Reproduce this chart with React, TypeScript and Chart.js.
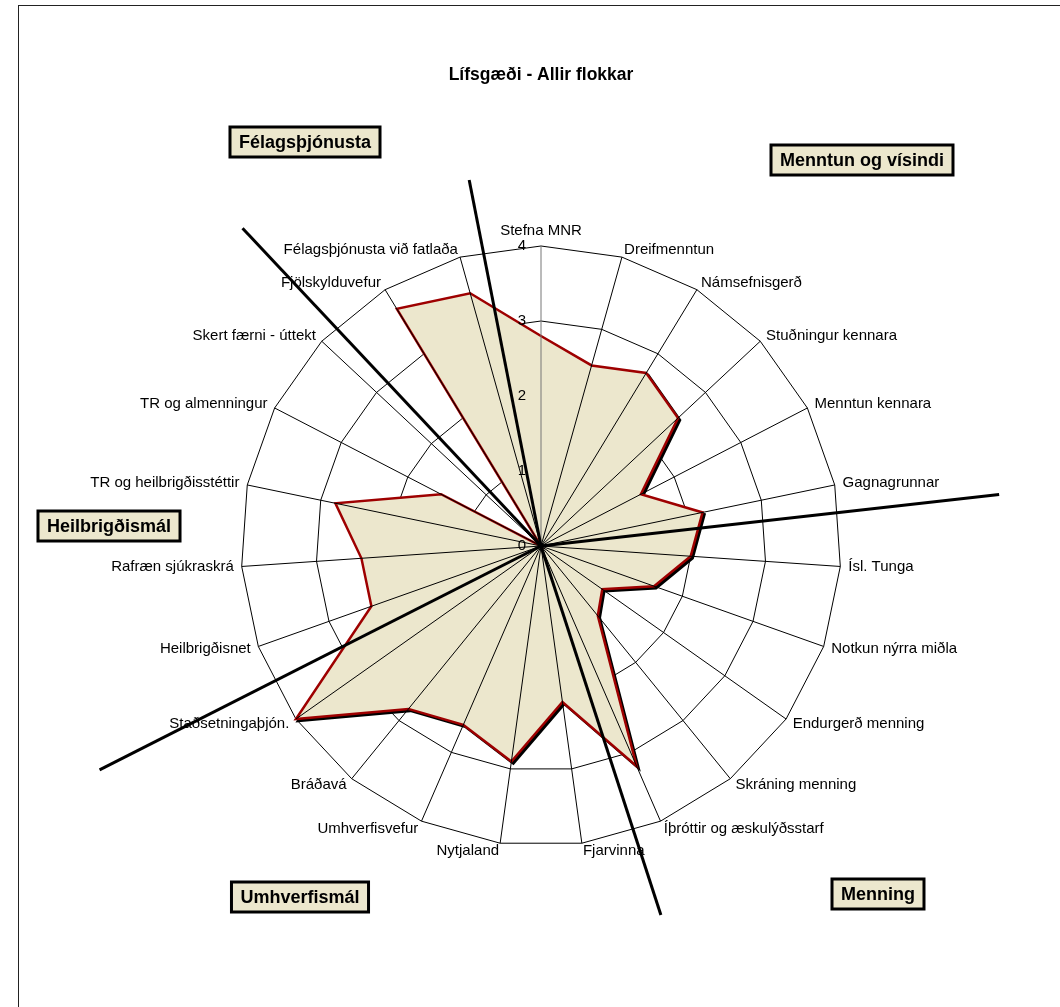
import React, { useEffect, useRef } from "react";
import { Chart, registerables } from "chart.js";

Chart.register(...registerables);

// ---------- data ----------
const categories = [
  "Stefna MNR",
  "Dreifmenntun",
  "Námsefnisgerð",
  "Stuðningur kennara",
  "Menntun kennara",
  "Gagnagrunnar",
  "Ísl. Tunga",
  "Notkun nýrra miðla",
  "Endurgerð menning",
  "Skráning menning",
  "Íþróttir og æskulýðsstarf",
  "Fjarvinna",
  "Nytjaland",
  "Umhverfisvefur",
  "Bráðavá",
  "Staðsetningaþjón.",
  "Heilbrigðisnet",
  "Rafræn sjúkraskrá",
  "TR og heilbrigðisstéttir",
  "TR og almenningur",
  "Skert færni - úttekt",
  "Fjölskylduvefur",
  "Félagsþjónusta við fatlaða",
];

const values = [
  2.8, 2.5, 2.7, 2.5, 1.5, 2.2, 2.0, 1.6, 1.0, 1.2, 3.2, 2.1,
  2.9, 2.6, 2.8, 4.0, 2.4, 2.4, 2.8, 1.5, 0.0, 3.7, 3.5,
];

const tickValues = [0, 1, 2, 3, 4];

const titleText = "Lífsgæði - Allir flokkar";

const groupNames = [
  "Félagsþjónusta",
  "Menntun og vísindi",
  "Heilbrigðismál",
  "Umhverfismál",
  "Menning",
];

// separator rays between the groups (degrees clockwise from top)
const separatorAngles = [348.9, 83.6, 162.0, 243.1, 316.8];

// ---------- layout / style ----------
const W = 1060;
const H = 1007;
const separatorLengths = [373, 461, 388, 495, 436];
const groupBoxCenters = [
  [305, 142],
  [862, 160],
  [109, 526],
  [300, 897],
  [878, 894],
];
const FILL = "#ECE7CD";
const LINE = "#9E0000";
const FONT = '"Liberation Sans", Arial, sans-serif';

const overlayPlugin = {
  id: "overlay",
  beforeDatasetsDraw(chart: any) {
    const ctx = chart.ctx;
    const meta = chart.getDatasetMeta(0);
    ctx.save();
    ctx.beginPath();
    meta.data.forEach((p: any, i: number) => {
      const x = p.x + 2;
      const y = p.y + 2;
      if (i === 0) ctx.moveTo(x, y);
      else ctx.lineTo(x, y);
    });
    ctx.closePath();
    ctx.fillStyle = "#000";
    ctx.fill();
    ctx.lineWidth = 2.5;
    ctx.strokeStyle = "#000";
    ctx.stroke();
    ctx.restore();
  },
  afterDatasetsDraw(chart: any) {
    const ctx = chart.ctx;
    const scale = chart.scales.r;
    const cx = scale.xCenter;
    const cy = scale.yCenter;
    const R = scale.drawingArea;
    ctx.save();

    // spokes (category axis lines) on top of the fill
    ctx.lineWidth = 1;
    categories.forEach((_, i) => {
      const p = scale.getPointPosition(i, R);
      ctx.strokeStyle = i === 0 ? "#777" : "#000";
      ctx.beginPath();
      ctx.moveTo(cx, cy);
      ctx.lineTo(p.x, p.y);
      ctx.stroke();
    });

    // thick group separators
    ctx.strokeStyle = "#000";
    ctx.lineWidth = 3;
    separatorAngles.forEach((deg, i) => {
      const a = (deg * Math.PI) / 180;
      const L = separatorLengths[i];
      ctx.beginPath();
      ctx.moveTo(cx, cy);
      ctx.lineTo(cx + L * Math.sin(a), cy - L * Math.cos(a));
      ctx.stroke();
    });

    // value tick labels
    ctx.fillStyle = "#000";
    ctx.font = `15px ${FONT}`;
    ctx.textAlign = "right";
    ctx.textBaseline = "middle";
    tickValues.forEach((v) => {
      const d = scale.getDistanceFromCenterForValue(v);
      ctx.fillText(String(v), cx - 15, cy - d);
    });

    // category labels
    ctx.font = `15px ${FONT}`;
    (chart.data.labels as string[]).forEach((lab, i) => {
      const p = scale.getPointPosition(i, R + 8);
      const a = scale.getIndexAngle(i);
      const s = Math.sin(a);
      if (Math.abs(s) < 0.01) {
        ctx.textAlign = "center";
        ctx.textBaseline = Math.cos(a) > 0 ? "bottom" : "top";
      } else {
        ctx.textAlign = s > 0 ? "left" : "right";
        ctx.textBaseline = "middle";
      }
      ctx.fillText(lab, p.x, p.y);
    });

    // title
    ctx.font = `bold 17.5px ${FONT}`;
    ctx.textAlign = "center";
    ctx.textBaseline = "middle";
    ctx.fillText(titleText, 541, 75);

    // group boxes
    ctx.font = `bold 18px ${FONT}`;
    groupNames.forEach((name, i) => {
      const [bx, by] = groupBoxCenters[i];
      const tw = ctx.measureText(name).width;
      const bw = tw + 18;
      const bh = 30;
      ctx.fillStyle = FILL;
      ctx.fillRect(bx - bw / 2, by - bh / 2, bw, bh);
      ctx.lineWidth = 3;
      ctx.strokeStyle = "#000";
      ctx.strokeRect(bx - bw / 2, by - bh / 2, bw, bh);
      ctx.fillStyle = "#000";
      ctx.fillText(name, bx, by + 1);
    });

    // outer frame (right / bottom edges fall outside the picture)
    ctx.lineWidth = 1;
    ctx.strokeStyle = "#222";
    ctx.strokeRect(18.5, 5.5, 1200, 1200);

    ctx.restore();
  },
};

export default function App() {
  const ref = useRef<HTMLCanvasElement | null>(null);

  useEffect(() => {
    if (!ref.current) return;
    const chart = new Chart(ref.current, {
      type: "radar",
      data: {
        labels: categories,
        datasets: [
          {
            data: values,
            borderColor: LINE,
            backgroundColor: FILL,
            borderWidth: 2.5,
            fill: true,
            pointRadius: 0,
            pointHoverRadius: 0,
            tension: 0,
          },
        ],
      },
      options: {
        responsive: false,
        animation: false,
        layout: { padding: { left: 241, top: 246, right: 219, bottom: 161 } },
        plugins: {
          legend: { display: false },
          title: { display: false },
          tooltip: { enabled: false },
        },
        scales: {
          r: {
            min: 0,
            max: 4,
            startAngle: 0,
            ticks: { display: false, stepSize: 1 },
            grid: { color: "#000", lineWidth: 1, circular: false },
            angleLines: { display: false },
            pointLabels: { display: false },
          },
        },
      },
      plugins: [overlayPlugin],
    } as any);
    return () => chart.destroy();
  }, []);

  return (
    <div style={{ position: "absolute", left: 0, top: 0, width: W, height: H, background: "#fff" }}>
      <canvas ref={ref} width={W} height={H} style={{ display: "block" }} />
    </div>
  );
}
